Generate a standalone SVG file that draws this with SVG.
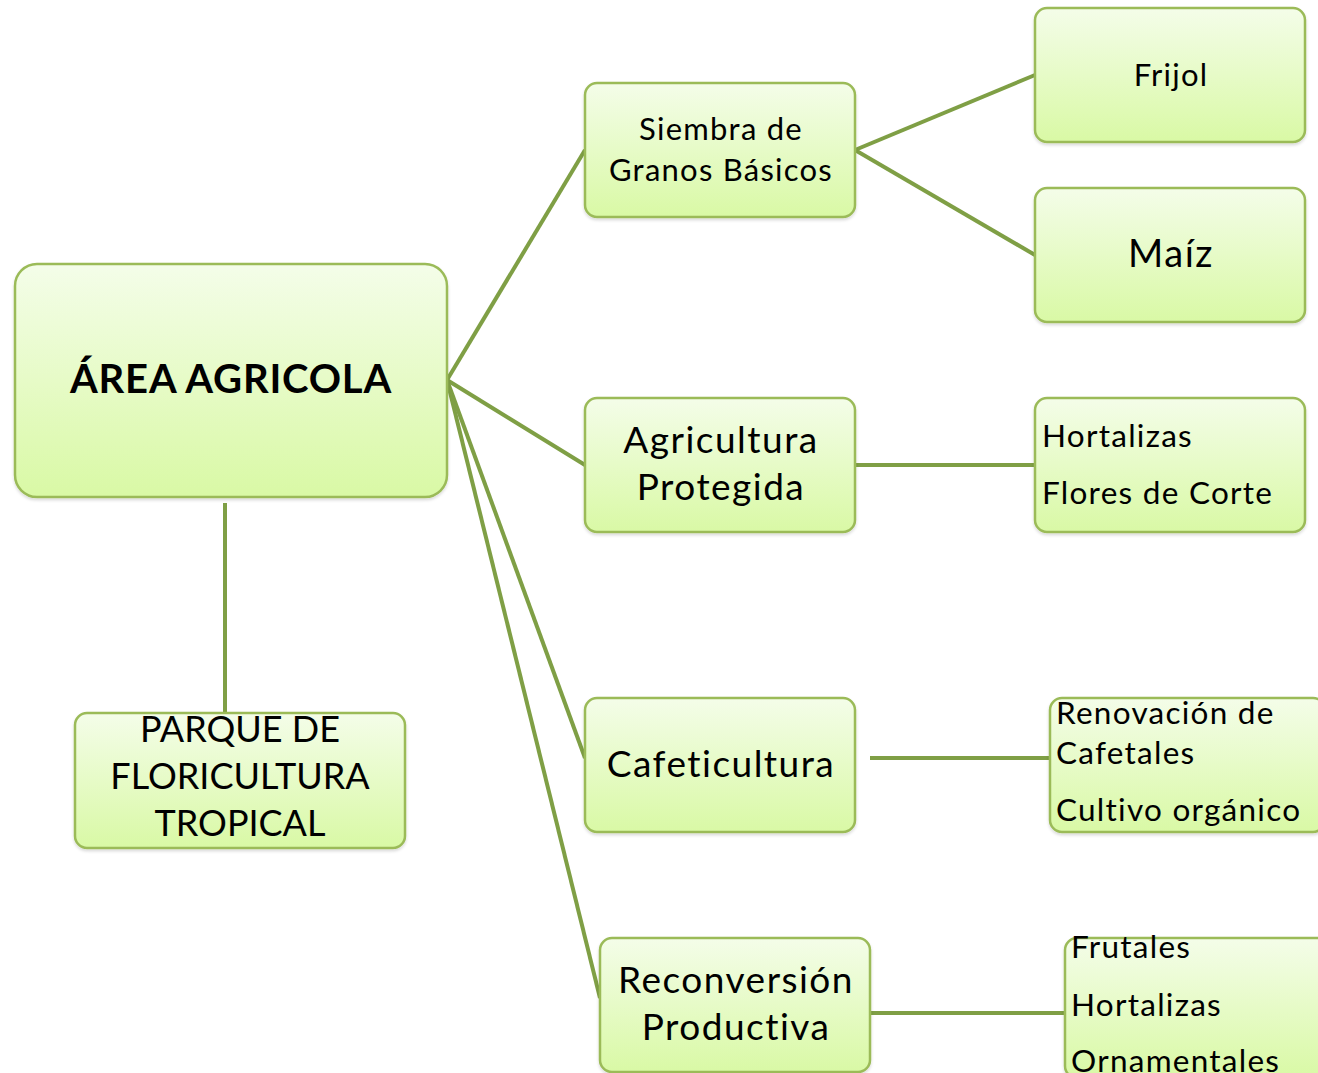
<svg xmlns="http://www.w3.org/2000/svg" width="1318" height="1073" viewBox="0 0 1318 1073">
<defs>
<linearGradient id="g" x1="0" y1="0" x2="0" y2="1">
<stop offset="0" stop-color="#f4fde9"/>
<stop offset="1" stop-color="#d9f9a5"/>
</linearGradient>
<filter id="sh" x="-5%" y="-5%" width="110%" height="115%">
<feDropShadow dx="0" dy="2" stdDeviation="1.5" flood-color="#000" flood-opacity="0.15"/>
</filter>
</defs>
<style>
.box{fill:url(#g);stroke:#9bbb59;stroke-width:2.5;filter:url(#sh)}
.t{font-family:Lato,"Liberation Sans",sans-serif;fill:#000;letter-spacing:0.04em}
.c{text-anchor:middle}
.u{letter-spacing:0}
.con line{stroke:#7f9f45;stroke-width:4;stroke-linecap:butt}
</style>
<rect width="1318" height="1073" fill="#fff"/>
<g class="con">
<line x1="447" y1="380" x2="585" y2="150"/>
<line x1="447" y1="380" x2="585" y2="465"/>
<line x1="447" y1="380" x2="585" y2="758"/>
<line x1="447" y1="380" x2="600" y2="998"/>
<line x1="225" y1="503" x2="225" y2="713"/>
<line x1="855" y1="150" x2="1035" y2="75"/>
<line x1="855" y1="150" x2="1035" y2="255"/>
<line x1="855" y1="465" x2="1035" y2="465"/>
<line x1="870" y1="758" x2="1050" y2="758"/>
<line x1="870" y1="1013" x2="1065" y2="1013"/>
</g>
<g id="area">
<rect class="box" x="15" y="264" width="432" height="233" rx="22"/>
<text class="t c" x="231" y="393" font-size="40" font-weight="bold" style="letter-spacing:0.8px">ÁREA AGRICOLA</text>
</g>
<g id="siembra">
<rect class="box" x="585" y="83" width="270" height="134" rx="12"/>
<text class="t c" x="721" y="140" font-size="31">Siembra de</text>
<text class="t c" x="721" y="181" font-size="31">Granos Básicos</text>
</g>
<g id="frijol">
<rect class="box" x="1035" y="8" width="270" height="134" rx="12"/>
<text class="t c" x="1171" y="86" font-size="31">Frijol</text>
</g>
<g id="maiz">
<rect class="box" x="1035" y="188" width="270" height="134" rx="12"/>
<text class="t c" x="1171" y="267" font-size="38">Maíz</text>
</g>
<g id="agricultura">
<rect class="box" x="585" y="398" width="270" height="134" rx="12"/>
<text class="t c" x="721" y="453" font-size="37">Agricultura</text>
<text class="t c" x="721" y="500" font-size="37">Protegida</text>
</g>
<g id="hortalizas">
<rect class="box" x="1035" y="398" width="270" height="134" rx="12"/>
<text class="t" x="1042" y="447" font-size="31.5">Hortalizas</text>
<text class="t" x="1042" y="504" font-size="31.5">Flores de Corte</text>
</g>
<g id="cafeticultura">
<rect class="box" x="585" y="698" width="270" height="134" rx="12"/>
<text class="t c" x="721" y="777" font-size="37">Cafeticultura</text>
</g>
<g id="renovacion">
<rect class="box" x="1050" y="698" width="275" height="134" rx="12"/>
<text class="t" x="1056" y="724" font-size="31.5">Renovación de</text>
<text class="t" x="1056" y="764" font-size="31.5">Cafetales</text>
<text class="t" x="1056" y="821" font-size="31.5">Cultivo orgánico</text>
</g>
<g id="reconversion">
<rect class="box" x="600" y="938" width="270" height="134" rx="12"/>
<text class="t c" x="736" y="993" font-size="37">Reconversión</text>
<text class="t c" x="736" y="1040" font-size="37">Productiva</text>
</g>
<g id="frutales">
<rect class="box" x="1065" y="938" width="270" height="140" rx="12"/>
<text class="t" x="1071" y="958" font-size="31.5">Frutales</text>
<text class="t" x="1071" y="1016" font-size="31.5">Hortalizas</text>
<text class="t" x="1071" y="1072" font-size="31.5">Ornamentales</text>
</g>
<g id="parque">
<rect class="box" x="75" y="713" width="330" height="135" rx="12"/>
<text class="t c u" x="240" y="742" font-size="36">PARQUE DE</text>
<text class="t c u" x="240" y="789" font-size="36">FLORICULTURA</text>
<text class="t c u" x="240" y="836" font-size="36">TROPICAL</text>
</g>
</svg>
